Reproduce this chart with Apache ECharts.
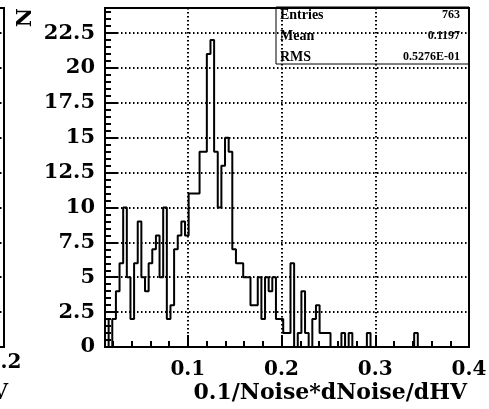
<!DOCTYPE html>
<html>
<head>
<meta charset="utf-8">
<script src="https://cdn.jsdelivr.net/npm/echarts@6/dist/echarts.min.js"></script>
<style>
  html, body { margin: 0; padding: 0; background: #fff; }
  #chart { width: 489px; height: 409px; }
</style>
</head>
<body>
<div id="chart"></div>
<script>
// Histogram: 100 equal bins starting at binLow
const binLow = 0.0117;
const binWidth = 0.00388;
const counts = [
  2, 0, 2, 4, 6, 10, 5, 2, 6, 9,
  5, 4, 6, 7, 8, 5, 10, 2, 3, 7,
  8, 9, 8, 11, 11, 11, 14, 14, 21, 22,
  14, 10, 13, 15, 14, 7, 6, 6, 5, 5,
  3, 3, 5, 2, 5, 4, 5, 2, 2, 1,
  1, 6, 0, 1, 4, 1, 0, 2, 3, 1,
  1, 1, 0, 0, 0, 1, 0, 1, 0, 0,
  0, 0, 1, 0, 0, 0, 0, 0, 0, 0,
  0, 0, 0, 0, 0, 1, 0, 0, 0, 0,
  0, 0, 0, 0, 0, 0, 0, 0, 0, 0
];

// Axis ranges and ticks
const xRange = [0.0117, 0.4];
const yRange = [0, 24.3];
const xMajorTicks = [0.1, 0.2, 0.3, 0.4];
const xMinorTicks = [0.02, 0.04, 0.06, 0.08, 0.12, 0.14, 0.16, 0.18,
                     0.22, 0.24, 0.26, 0.28, 0.32, 0.34, 0.36, 0.38];
const yMajorTicks = [0, 2.5, 5, 7.5, 10, 12.5, 15, 17.5, 20, 22.5];
const yMinorTicks = [0.5, 1, 1.5, 2, 3, 3.5, 4, 4.5, 5.5, 6, 6.5, 7,
                     8, 8.5, 9, 9.5, 10.5, 11, 11.5, 12, 13, 13.5, 14, 14.5,
                     15.5, 16, 16.5, 17, 18, 18.5, 19, 19.5, 20.5, 21, 21.5, 22,
                     23, 23.5, 24];

// Neighbouring panel (only its right edge is in view)
const sideXRange = [0, 0.2];
const sideXTicks = [0.2];

// Statistics box
const statNames = ['Entries', 'Mean', 'RMS'];
const statValues = ['763', '0.1197', '0.5276E-01'];

const xTitle = '0.1/Noise*dNoise/dHV';
const yTitle = 'N';

const labelFont = 'DejaVu Serif';
const boxFont = 'Liberation Serif';

// outline points of the histogram: left edge of each bin, plus the final right edge
const stepPoints = counts.map((c, i) => [binLow + i * binWidth, c]);
stepPoints.push([binLow + counts.length * binWidth, counts[counts.length - 1]]);

const dotted = { color: '#000', width: 2, type: [1.5, 2.5] };

const chart = echarts.init(document.getElementById('chart'), null, { renderer: 'canvas' });

const statGraphics = [{
  type: 'rect',
  shape: { x: 276, y: 7, width: 193, height: 57 },
  style: { fill: 'none', stroke: '#000', lineWidth: 1 },
  z: 10
}];
statNames.forEach((name, i) => {
  const cy = 15 + i * 21;
  statGraphics.push({
    type: 'text', x: 280, y: cy, z: 10,
    style: { text: name, font: 'bold 14px "' + boxFont + '"', fill: '#000',
             textAlign: 'left', textVerticalAlign: 'middle' }
  });
  statGraphics.push({
    type: 'text', x: 460, y: cy, z: 10,
    style: { text: statValues[i], font: 'bold 12px "' + boxFont + '"', fill: '#000',
             textAlign: 'right', textVerticalAlign: 'middle' }
  });
});

chart.setOption({
  animation: false,
  backgroundColor: '#fff',
  grid: [
    { left: 105, right: 20, top: 8, bottom: 62, show: true,
      borderColor: '#000', borderWidth: 2, containLabel: false, outerBoundsMode: 'none' },
    { left: -360, right: 485, top: 8, bottom: 62, show: true,
      borderColor: '#000', borderWidth: 2, containLabel: false, outerBoundsMode: 'none' }
  ],
  xAxis: [
    {
      type: 'value', gridIndex: 0, min: xRange[0], max: xRange[1], position: 'bottom',
      axisLine: { show: false },
      axisTick: { show: true, inside: true, length: 12, customValues: xMajorTicks,
                  lineStyle: { color: '#000', width: 2 } },
      axisLabel: { show: true, customValues: xMajorTicks, margin: 13, color: '#000',
                   fontFamily: labelFont, fontWeight: 'bold', fontSize: 20,
                   formatter: v => String(v) },
      splitLine: { show: true, lineStyle: dotted },
      name: xTitle, nameLocation: 'end', nameGap: -2,
      nameTextStyle: { fontFamily: labelFont, fontWeight: 'bold', fontSize: 22, color: '#000',
                       align: 'right', verticalAlign: 'top', padding: [35, 0, 0, 0] }
    },
    {
      type: 'value', gridIndex: 0, min: xRange[0], max: xRange[1], position: 'bottom',
      axisLine: { show: false },
      axisTick: { show: true, inside: true, length: 6, customValues: xMinorTicks,
                  lineStyle: { color: '#000', width: 2 } },
      axisLabel: { show: false }, splitLine: { show: false }
    },
    {
      type: 'value', gridIndex: 1, min: sideXRange[0], max: sideXRange[1], position: 'bottom',
      axisLine: { show: false },
      axisTick: { show: false, customValues: sideXTicks },
      axisLabel: { show: true, customValues: sideXTicks, margin: 6, color: '#000',
                   fontFamily: labelFont, fontWeight: 'bold', fontSize: 20,
                   formatter: v => String(v) },
      splitLine: { show: false },
      name: xTitle, nameLocation: 'end', nameGap: 4,
      nameTextStyle: { fontFamily: labelFont, fontWeight: 'bold', fontSize: 22, color: '#000',
                       align: 'right', verticalAlign: 'top', padding: [35, 0, 0, 0] }
    }
  ],
  yAxis: [
    {
      type: 'value', gridIndex: 0, min: yRange[0], max: yRange[1], position: 'left',
      axisLine: { show: false },
      axisTick: { show: true, inside: true, length: 12, customValues: yMajorTicks,
                  lineStyle: { color: '#000', width: 2 } },
      axisLabel: { show: true, customValues: yMajorTicks, margin: 10, color: '#000',
                   fontFamily: labelFont, fontWeight: 'bold', fontSize: 21,
                   padding: [6, 0, 0, 0],
                   formatter: v => String(v) },
      splitLine: { show: true, lineStyle: dotted },
      name: yTitle, nameLocation: 'end', nameRotate: 90, nameGap: 0,
      nameTextStyle: { fontFamily: labelFont, fontWeight: 'bold', fontSize: 21, color: '#000',
                       align: 'right', verticalAlign: 'bottom', padding: [0, 0, 69, 0] }
    },
    {
      type: 'value', gridIndex: 0, min: yRange[0], max: yRange[1], position: 'left',
      axisLine: { show: false },
      axisTick: { show: true, inside: true, length: 6, customValues: yMinorTicks,
                  lineStyle: { color: '#000', width: 2 } },
      axisLabel: { show: false }, splitLine: { show: false }
    },
    {
      type: 'value', gridIndex: 1, min: yRange[0], max: yRange[1], position: 'left',
      axisLine: { show: false },
      axisTick: { show: false, customValues: yMajorTicks },
      axisLabel: { show: false, customValues: yMajorTicks },
      splitLine: { show: true, lineStyle: dotted }
    }
  ],
  series: [{
    type: 'line',
    xAxisIndex: 0, yAxisIndex: 0,
    data: stepPoints,
    step: 'end',
    symbol: 'none',
    lineStyle: { color: '#000', width: 2 },
    clip: true,
    z: 5
  }],
  graphic: statGraphics
});
</script>
</body>
</html>
